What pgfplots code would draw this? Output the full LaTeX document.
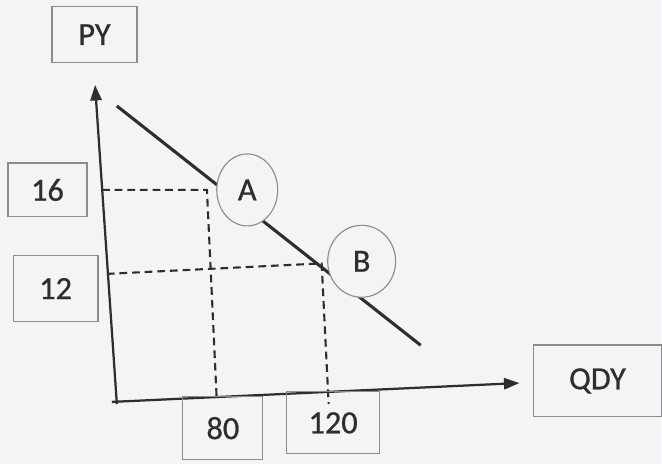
\documentclass[border=0pt]{standalone}
\usepackage{pgfplots}
\pgfplotsset{compat=1.18}
\usepackage{fontspec}
\setmainfont{Carlito}
\newfontfamily\lblfont[FakeBold=0.7]{Carlito}
\usetikzlibrary{arrows.meta,shapes.geometric}

\definecolor{ink}{HTML}{2E2E2E}
\definecolor{boxline}{HTML}{8C8C8C}
\definecolor{paper}{HTML}{F4F4F6}

\begin{document}
\begin{tikzpicture}
\begin{axis}[
  scale only axis, width=16.55cm, height=11.6cm,
  xmin=3.93, xmax=240.36, ymin=2.86, ymax=24.95,
  hide axis, clip=false,
]
\fill[paper] (rel axis cs:0,0) rectangle (rel axis cs:1,1);

% axes (slightly tilted, as in the scan)
\addplot[ink, line width=1.6pt, -{Triangle[length=11pt,width=8pt]}]
  coordinates {(45.7,5.7) (37.9,20.9)};
\addplot[ink, line width=1.6pt, -{Triangle[length=11pt,width=8pt]}]
  coordinates {(43.9,5.8) (189.6,6.7)};

% demand curve
\addplot[ink, line width=2.2pt] coordinates {(45.7,19.9) (154.3,8.5)};

% guide lines for A and B
\addplot[ink, line width=1.5pt, dash pattern=on 5.5pt off 3.5pt]
  coordinates {(40.4,15.9) (77.9,15.9) (81.4,5.9)};
\addplot[ink, line width=1.5pt, dash pattern=on 5.5pt off 3.5pt]
  coordinates {(42.1,11.9) (118.9,12.4) (121.4,5.7)};

% circles around the points
\node[ellipse, draw=boxline, line width=0.8pt, fill=paper,
      minimum width=1.525cm, minimum height=1.8cm, inner sep=0pt,
      text=ink, font=\lblfont\fontsize{23}{27}\selectfont] at (92.3,15.9) {A};
\node[ellipse, draw=boxline, line width=0.8pt, fill=paper,
      minimum width=1.7cm, minimum height=1.8cm, inner sep=0pt,
      text=ink, font=\lblfont\fontsize{23}{27}\selectfont] at (133.2,12.5) {B};

% labelled boxes
\tikzset{lbl/.style={draw=boxline, line width=0.8pt, inner sep=0pt,
  text=ink, font=\lblfont\fontsize{23}{27}\selectfont}}
\node[lbl, minimum width=2.125cm, minimum height=1.4cm]   at (37.7,23.3) {PY};
\node[lbl, minimum width=1.975cm, minimum height=1.35cm]  at (20.9,15.9) {16};
\node[lbl, minimum width=2.125cm, minimum height=1.65cm]  at (23.8,11.2) {12};
\node[lbl, minimum width=2.0cm,   minimum height=1.575cm] at (83.6,4.55) {80};
\node[lbl, minimum width=2.325cm, minimum height=1.55cm]  at (123.0,4.8) {120};
\node[lbl, minimum width=3.2cm,   minimum height=1.8cm]   at (217.5,6.8) {QDY};
\end{axis}
\end{tikzpicture}
\end{document}
